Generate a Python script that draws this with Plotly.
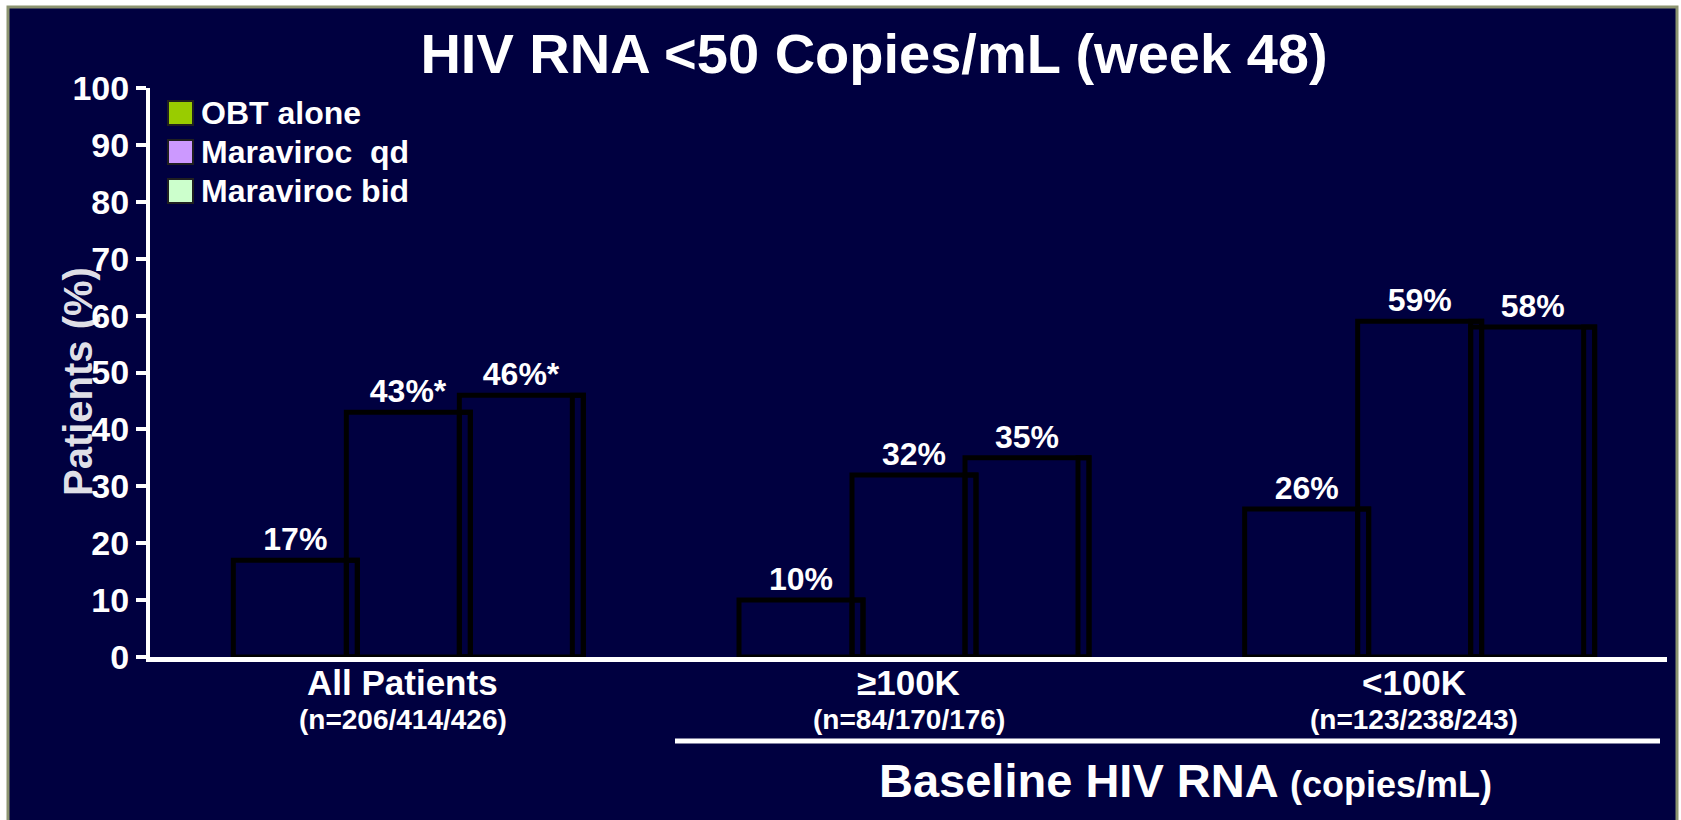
import plotly.graph_objects as go

# ---- data ----
groups = ["All Patients", "≥100K", "&lt;100K"]
group_n = ["(n=206/414/426)", "(n=84/170/176)", "(n=123/238/243)"]
series = ["OBT alone", "Maraviroc  qd", "Maraviroc bid"]
series_colors = ["#99CC00", "#CC99FF", "#CCFFCC"]
obt_alone = [17, 10, 26]
maraviroc_qd = [43, 32, 59]
maraviroc_bid = [46, 35, 58]
significant = [True, False, False]  # asterisk on maraviroc arms
y_ticks = list(range(0, 101, 10))

values = [obt_alone, maraviroc_qd, maraviroc_bid]

NAVY = "#000040"
FONT = "Liberation Sans, Arial, sans-serif"

# plot area in pixels (figure is 1681 x 820)
W, H = 1681, 820
L, R, T, B = 150, 1667, 88, 657


def px_x(px):
    return (px - L) / (R - L)


def px_y(py):
    return (B - py) / (B - T)


unit = (R - L) / 3.0          # px per category
bar_w = 113 / unit            # front face
side_w = 11 / unit            # the little "side" strip on the right

fig = go.Figure()

for j, vals in enumerate(values):
    left = [i - 1.5 * bar_w + j * bar_w for i in range(len(groups))]
    labels = [f"{v}%" + ("*" if (j > 0 and significant[i]) else "")
              for i, v in enumerate(vals)]
    # outer outline (front + side)
    fig.add_trace(go.Bar(
        x=[x + (bar_w + side_w) / 2 for x in left], y=vals,
        width=bar_w + side_w,
        marker=dict(color="rgba(0,0,0,0)", line=dict(color="black", width=5)),
        text=labels, textposition="outside", constraintext="none",
        textfont=dict(family=FONT, size=32, color="white", weight="bold"),
        cliponaxis=False, showlegend=False, name=series[j],
        hovertemplate=series[j] + ": %{y}%<extra></extra>",
    ))
    # inner edge of the side strip
    fig.add_trace(go.Bar(
        x=[x + bar_w + side_w / 2 for x in left], y=vals,
        width=side_w,
        marker=dict(color="rgba(0,0,0,0)", line=dict(color="black", width=5)),
        showlegend=False, hoverinfo="skip",
    ))

shapes = [
    # slide frame
    dict(type="rect", xref="paper", yref="paper", layer="below",
         x0=px_x(8), x1=px_x(1677), y0=px_y(830), y1=px_y(7),
         fillcolor=NAVY, line=dict(color="#8C9470", width=3)),
    # bracket under baseline RNA groups
    dict(type="line", xref="paper", yref="paper",
         x0=px_x(675), x1=px_x(1660), y0=px_y(741), y1=px_y(741),
         line=dict(color="white", width=5)),
]

annotations = []

# hand-made legend
for k, (name, col) in enumerate(zip(series, series_colors)):
    cy = 113 + k * 39
    shapes.append(dict(type="rect", xref="paper", yref="paper",
                       x0=px_x(168), x1=px_x(193), y0=px_y(cy + 12), y1=px_y(cy - 12),
                       fillcolor=col, line=dict(color="#202020", width=2)))
    annotations.append(dict(xref="paper", yref="paper", x=px_x(199), y=px_y(cy),
                            xanchor="left", yanchor="middle", showarrow=False,
                            text=name, font=dict(family=FONT, size=32, color="white", weight="bold")))

# group names and n= under each group
for i, (g, n) in enumerate(zip(groups, group_n)):
    annotations.append(dict(xref="x", yref="paper", x=i, y=0, yshift=-(682 - B),
                            xanchor="center", yanchor="middle", showarrow=False,
                            text=g, font=dict(family=FONT, size=35, color="white", weight="bold")))
    annotations.append(dict(xref="x", yref="paper", x=i, y=0, yshift=-(719 - B),
                            xanchor="center", yanchor="middle", showarrow=False,
                            text=n, font=dict(family=FONT, size=28, color="white", weight="bold")))

annotations.append(dict(
    xref="paper", yref="paper", x=px_x(1185), y=px_y(780),
    xanchor="center", yanchor="middle", showarrow=False,
    text="Baseline HIV RNA <span style='font-size:36px'>(copies/mL)</span>",
    font=dict(family=FONT, size=47, color="white", weight="bold")))

annotations.append(dict(
    xref="paper", yref="paper", x=px_x(78), y=px_y(382),
    xanchor="center", yanchor="middle", showarrow=False, textangle=-90,
    text="Patients (%)",
    font=dict(family=FONT, size=40, color="rgba(255,255,255,0.9)", weight="bold")))

fig.update_layout(
    width=W, height=H,
    margin=dict(l=L, r=W - R, t=T, b=H - B, pad=0),
    paper_bgcolor="white",
    plot_bgcolor=NAVY,
    barmode="overlay",
    title=dict(text="HIV RNA &lt;50 Copies/mL (week 48)",
               x=px_x(874), xref="paper", xanchor="center",
               y=1 - 53 / H, yanchor="middle",
               font=dict(family=FONT, size=56, color="white", weight="bold")),
    xaxis=dict(range=[-0.5, 2.5], tickvals=list(range(len(groups))),
               showticklabels=False,
               showline=True, linecolor="white", linewidth=5, ticks="",
               showgrid=False, zeroline=False, fixedrange=True),
    yaxis=dict(range=[0, 100], tickvals=y_ticks,
               showline=True, linecolor="white", linewidth=4,
               ticks="outside", ticklen=10, tickwidth=4, tickcolor="white",
               showgrid=False, zeroline=False, fixedrange=True,
               tickfont=dict(family=FONT, size=34, color="white", weight="bold")),
    shapes=shapes,
    annotations=annotations,
    showlegend=False,
)

# drop the default 8px body margin so the figure sits flush in the window
fig.write_html(
    "out.html",
    config={"displayModeBar": False},
    post_script="document.body.style.margin='0';document.body.style.overflow='hidden';",
)
